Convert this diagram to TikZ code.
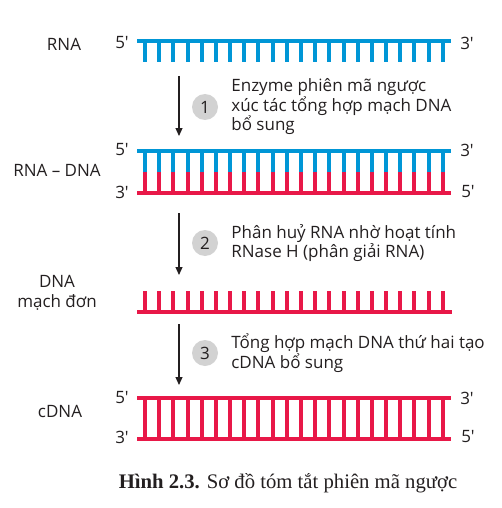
\documentclass[tikz,border=0pt]{standalone}
\usepackage{fontspec}
\setmainfont{Open Sans}
\newfontfamily\capfont{Liberation Serif}
\usetikzlibrary{positioning,arrows.meta}
\definecolor{rnablue}{RGB}{0,150,214}
\definecolor{dnared}{RGB}{232,24,72}
\definecolor{stepgray}{RGB}{210,210,210}
\definecolor{ink}{RGB}{35,31,32}

\begin{document}
\begin{tikzpicture}[x=1pt,y=-1pt,
  every node/.style={font=\fontsize{17}{19.5}\selectfont,text=ink},
  lbl/.style={align=center,inner sep=0pt},
  endlbl/.style={inner sep=0pt},
  num/.style={circle,fill=stepgray,minimum size=26pt,inner sep=0pt},
  note/.style={align=left,inner sep=0pt},
  flow/.style={-{Triangle[length=8pt,width=7pt]},line width=1.1pt,draw=ink},
  bb/.style={line width=3.5pt},
  tooth/.style={line width=4pt}
 ]
  \useasboundingbox (0,0) rectangle (502,508);

  % strands
  \draw[bb,rnablue] (137,41) -- (451,41);
  \draw[bb,rnablue] (137,151) -- (451,151);
  \draw[bb,dnared] (137,193) -- (451,193);
  \draw[bb,dnared] (137,312) -- (452,312);
  \draw[bb,dnared] (137,398) -- (451,398);
  \draw[bb,dnared] (137,439) -- (451,439);
  \foreach \i in {0,...,21}{
    \draw[tooth,rnablue] ({145+14.18*\i},41) -- ++(0,21);
    \draw[tooth,rnablue] ({145+14.18*\i},151) -- ++(0,21);
    \draw[tooth,dnared] ({145+14.18*\i},172) -- ++(0,21);
    \draw[tooth,dnared] ({145+14.18*\i},291) -- ++(0,21);
    \draw[tooth,dnared] ({145+14.18*\i},398) -- ++(0,41);
  }

  % row labels
  \node[lbl] (rna) at (64,44) {RNA};
  \node[lbl] (hybrid) at (57,170) {RNA -- DNA};
  \node[lbl] (ssdna) at (57,293) {DNA\\mạch đơn};
  \node[lbl] (cdna) at (60,411) {cDNA};

  % strand ends
  \node[endlbl] (r5) at (122,43) {5\textquotesingle};
  \node[endlbl] (r3) at (467,43) {3\textquotesingle};
  \node[endlbl] (h5) at (122,150) {5\textquotesingle};
  \node[endlbl] (h3a) at (467,150) {3\textquotesingle};
  \node[endlbl] (h3b) at (122,192) {3\textquotesingle};
  \node[endlbl] (h5b) at (468,192) {5\textquotesingle};
  \node[endlbl] (c5) at (122,398) {5\textquotesingle};
  \node[endlbl] (c3a) at (467,398) {3\textquotesingle};
  \node[endlbl] (c3b) at (122,437) {3\textquotesingle};
  \node[endlbl] (c5b) at (468,437) {5\textquotesingle};

  % steps
  \coordinate (s1a) at (179,76);
  \coordinate (s1b) at (179,136);
  \coordinate (s2a) at (179,213);
  \coordinate (s2b) at (179,275);
  \coordinate (s3a) at (179,324);
  \coordinate (s3b) at (179,385);
  \node[num] (n1) at (205,107) {1};
  \node[num] (n2) at (205,243) {2};
  \node[num] (n3) at (205,353) {3};
  \node[note,right=13pt of n1] (t1) {Enzyme phiên mã ngược\\xúc tác tổng hợp mạch DNA\\bổ sung};
  \node[note,right=13pt of n2] (t2) {Phân huỷ RNA nhờ hoạt tính\\RNase H (phân giải RNA)};
  \node[note,right=13pt of n3] (t3) {Tổng hợp mạch DNA thứ hai tạo\\cDNA bổ sung};
  \draw[flow] (s1a) -- (s1b);
  \draw[flow] (s2a) -- (s2b);
  \draw[flow] (s3a) -- (s3b);

  % caption
  \node[inner sep=0pt] (cap) at (288,483) {\capfont\fontsize{20.7}{24}\selectfont
    \textbf{Hình 2.3.} Sơ đồ tóm tắt phiên mã ngược};
\end{tikzpicture}
\end{document}
